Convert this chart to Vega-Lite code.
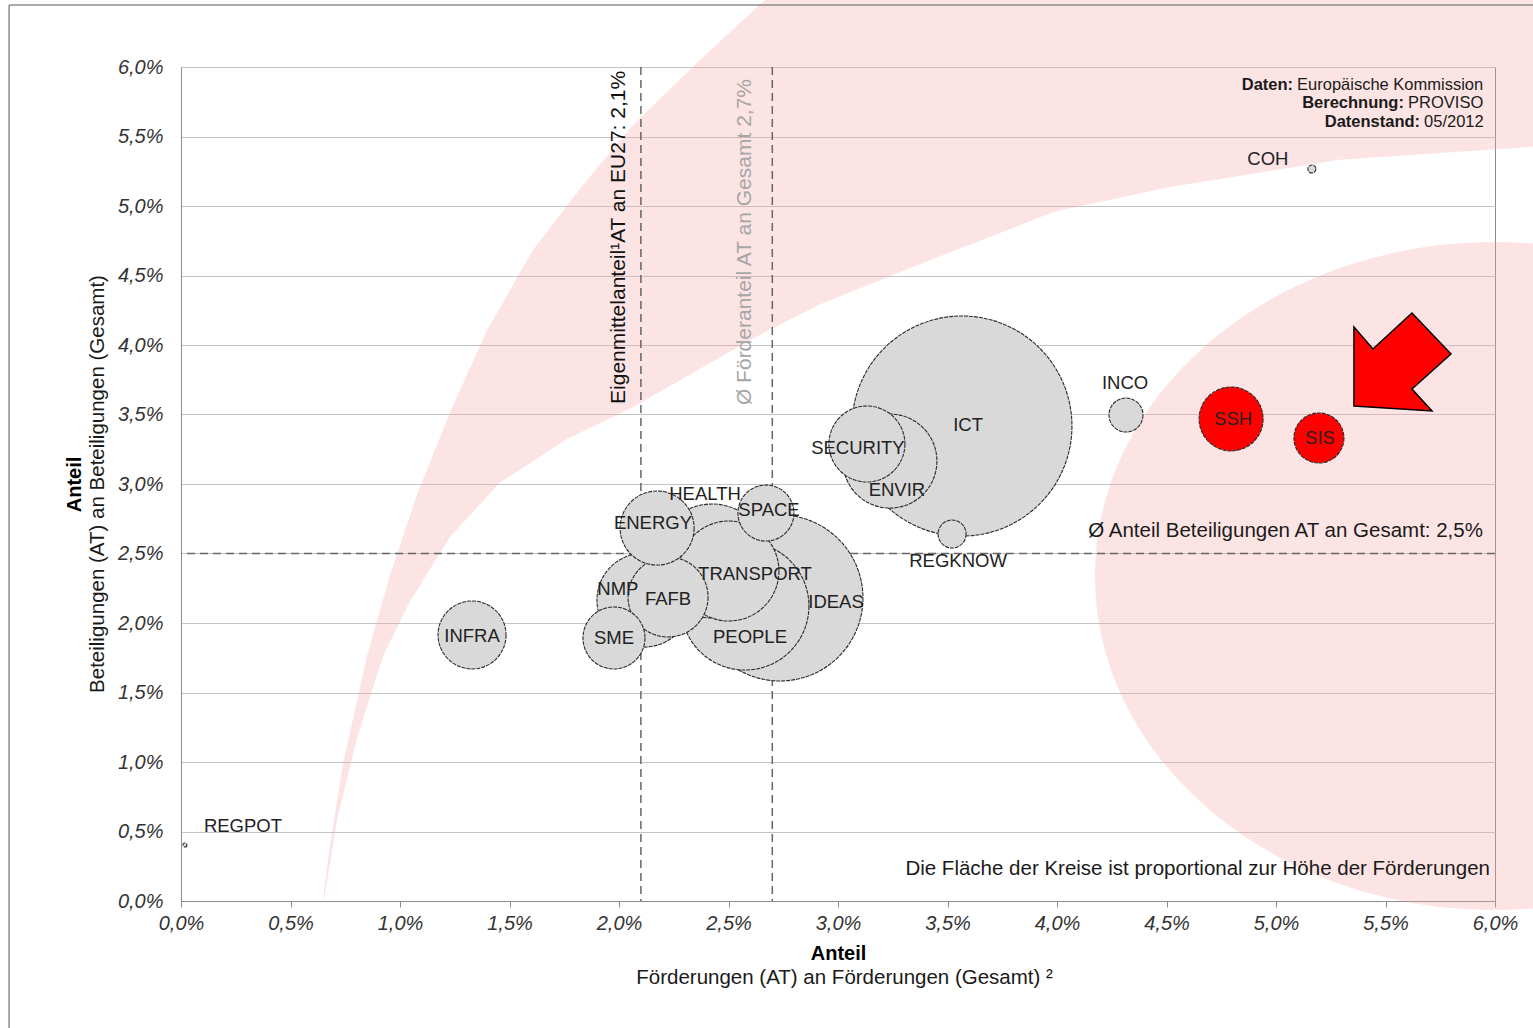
{
  "$schema": "https://vega.github.io/schema/vega-lite/v6.json",
  "width": 1314,
  "height": 834,
  "autosize": {"type": "none"},
  "padding": {"left": 181, "top": 67, "right": 38, "bottom": 127},
  "background": "white",
  "data": {"values": [{}]},
  "config": {
    "font": "Liberation Sans",
    "view": {"stroke": "#8c8c8c", "strokeWidth": 1}
  },
  "layer": [
    {
      "mark": {"type": "point", "filled": true, "fill": "#f6a5a5", "opacity": 0.3, "strokeWidth": 0, "size": 640000,
        "shape": "M -1 0 C -1 -0.461 -0.552 -0.835 0 -0.835 C 0.552 -0.835 1 -0.461 1 0 C 1 0.461 0.552 0.835 0 0.835 C -0.552 0.835 -1 0.461 -1 0 Z"},
      "encoding": {
        "x": {"datum": 6.0, "type": "quantitative", "scale": {"domain": [0, 6]},
          "axis": {"values": [0, 0.5, 1, 1.5, 2, 2.5, 3, 3.5, 4, 4.5, 5, 5.5, 6],
            "labelExpr": "replace(format(datum.value, '.1f'), '.', ',') + '%'",
            "labelFont": "Liberation Sans", "labelFontStyle": "italic", "labelFontSize": 20, "labelColor": "#333333",
            "labelPadding": 6, "labelFlush": false, "tickSize": 6, "tickColor": "#8c8c8c", "domainColor": "#8c8c8c", "grid": false,
            "title": "Anteil", "titleFontWeight": "bold", "titleFontSize": 20, "titleColor": "#000000", "titlePadding": 10}},
        "y": {"datum": 2.338, "type": "quantitative", "scale": {"domain": [0, 6]},
          "axis": {"values": [0, 0.5, 1, 1.5, 2, 2.5, 3, 3.5, 4, 4.5, 5, 5.5, 6],
            "labelExpr": "replace(format(datum.value, '.1f'), '.', ',') + '%'",
            "labelFont": "Liberation Sans", "labelFontStyle": "italic", "labelFontSize": 20, "labelColor": "#333333",
            "labelPadding": 18, "labelFlush": false, "ticks": false, "domainColor": "#8c8c8c", "grid": true, "gridColor": "#c4c4c4",
            "title": "Anteil", "titleFontWeight": "bold", "titleFontSize": 20, "titleColor": "#000000", "titlePadding": 33}}
      }
    },
    {
      "mark": {"type": "point", "filled": true, "fill": "#f6a5a5", "opacity": 0.3, "strokeWidth": 0, "size": 1537600,
        "shape": "M -0.979 0.726 L -0.968 0.639 L -0.947 0.508 L -0.908 0.332 L -0.871 0.202 L -0.827 0.071 L -0.774 -0.061 L -0.715 -0.192 L -0.640 -0.323 L -0.560 -0.427 L -0.479 -0.524 L -0.371 -0.629 L -0.266 -0.726 L -0.250 -0.742 L 0.992 -0.742 L 0.992 -0.489 L 0.973 -0.489 L 0.661 -0.468 L 0.387 -0.424 L 0.200 -0.384 L 0.113 -0.350 L -0.021 -0.298 L -0.177 -0.235 L -0.263 -0.192 L -0.371 -0.131 L -0.479 -0.069 L -0.585 -0.018 L -0.694 0.053 L -0.774 0.140 L -0.839 0.245 L -0.882 0.332 L -0.924 0.465 L -0.956 0.595 L -0.976 0.718 Z"},
      "encoding": {
        "x": {"datum": 3.42, "type": "quantitative", "scale": {"domain": [0, 6]}},
        "y": {"datum": 3.245, "type": "quantitative", "scale": {"domain": [0, 6]}}
      }
    },
    {
      "mark": {"type": "rule", "color": "#8c8c8c", "strokeWidth": 1.5},
      "encoding": {
        "x": {"datum": -0.785, "type": "quantitative", "scale": {"domain": [0, 6]}},
        "y": {"datum": -0.95, "type": "quantitative", "scale": {"domain": [0, 6]}},
        "y2": {"datum": 6.446}
      }
    },
    {
      "mark": {"type": "rule", "color": "#8c8c8c", "strokeWidth": 1.5},
      "encoding": {
        "x": {"datum": -0.785, "type": "quantitative", "scale": {"domain": [0, 6]}},
        "x2": {"datum": 6.2},
        "y": {"datum": 6.446, "type": "quantitative", "scale": {"domain": [0, 6]}}
      }
    },
    {
      "mark": {"type": "rule", "color": "#666666", "strokeWidth": 1.5, "strokeDash": [8, 5]},
      "encoding": {"x": {"datum": 2.1, "type": "quantitative", "scale": {"domain": [0, 6]}}}
    },
    {
      "mark": {"type": "rule", "color": "#666666", "strokeWidth": 1.5, "strokeDash": [8, 5]},
      "encoding": {"x": {"datum": 2.7, "type": "quantitative", "scale": {"domain": [0, 6]}}}
    },
    {
      "mark": {"type": "rule", "color": "#666666", "strokeWidth": 1.5, "strokeDash": [8, 5]},
      "encoding": {"y": {"datum": 2.5, "type": "quantitative", "scale": {"domain": [0, 6]}}}
    },
    {
      "data": {"values": [
        {"name": "ICT", "foerd": 12100, "x": 3.566, "y": 3.417, "lx": 3.594, "ly": 3.424},
        {"name": "IDEAS", "foerd": 6889, "x": 2.735, "y": 2.180, "lx": 2.991, "ly": 2.151},
        {"name": "PEOPLE", "foerd": 4096, "x": 2.575, "y": 2.122, "lx": 2.598, "ly": 1.899},
        {"name": "HEALTH", "foerd": 3249, "x": 2.425, "y": 2.446, "lx": 2.393, "ly": 2.928},
        {"name": "TRANSPORT", "foerd": 2500, "x": 2.502, "y": 2.374, "lx": 2.621, "ly": 2.353},
        {"name": "ENVIR", "foerd": 2209, "x": 3.237, "y": 3.165, "lx": 3.269, "ly": 2.957},
        {"name": "NMP", "foerd": 2209, "x": 2.114, "y": 2.165, "lx": 1.995, "ly": 2.245},
        {"name": "FAFB", "foerd": 1600, "x": 2.224, "y": 2.187, "lx": 2.224, "ly": 2.173},
        {"name": "SECURITY", "foerd": 1444, "x": 3.132, "y": 3.288, "lx": 3.091, "ly": 3.259},
        {"name": "ENERGY", "foerd": 1369, "x": 2.174, "y": 2.683, "lx": 2.155, "ly": 2.719},
        {"name": "INFRA", "foerd": 1156, "x": 1.329, "y": 1.914, "lx": 1.329, "ly": 1.906},
        {"name": "SSH", "foerd": 1024, "x": 4.795, "y": 3.468, "lx": 4.804, "ly": 3.468},
        {"name": "SME", "foerd": 961, "x": 1.977, "y": 1.892, "lx": 1.977, "ly": 1.892},
        {"name": "SPACE", "foerd": 784, "x": 2.671, "y": 2.791, "lx": 2.685, "ly": 2.813},
        {"name": "SIS", "foerd": 625, "x": 5.196, "y": 3.331, "lx": 5.201, "ly": 3.331},
        {"name": "INCO", "foerd": 289, "x": 4.315, "y": 3.496, "lx": 4.311, "ly": 3.727},
        {"name": "REGKNOW", "foerd": 196, "x": 3.521, "y": 2.640, "lx": 3.548, "ly": 2.446},
        {"name": "COH", "foerd": 16, "x": 5.164, "y": 5.266, "lx": 4.963, "ly": 5.338},
        {"name": "REGPOT", "foerd": 4, "x": 0.018, "y": 0.403, "lx": 0.283, "ly": 0.540}
      ]},
      "layer": [
        {
          "mark": {"type": "point", "shape": "circle", "filled": true, "opacity": 1, "stroke": "#2a2a2a", "strokeWidth": 1.1, "strokeDash": [4, 1]},
          "encoding": {
            "x": {"field": "x", "type": "quantitative", "scale": {"domain": [0, 6]}},
            "y": {"field": "y", "type": "quantitative", "scale": {"domain": [0, 6]}},
            "size": {"field": "foerd", "type": "quantitative", "scale": {"type": "linear", "domain": [0, 12100], "range": [0, 48400]}, "legend": null},
            "fill": {"condition": {"test": "datum.name === 'SSH' || datum.name === 'SIS'", "value": "#ff0000"}, "value": "#d9d9d9"}
          }
        },
        {
          "mark": {"type": "text", "fontSize": 18.5, "color": "#222222", "align": "center", "baseline": "middle", "font": "Liberation Sans"},
          "encoding": {
            "x": {"field": "lx", "type": "quantitative", "scale": {"domain": [0, 6]}},
            "y": {"field": "ly", "type": "quantitative", "scale": {"domain": [0, 6]}},
            "text": {"field": "name"}
          }
        }
      ]
    },
    {
      "mark": {"type": "text", "angle": 270, "align": "left", "baseline": "bottom", "fontSize": 21, "color": "#111111"},
      "encoding": {
        "x": {"datum": 2.045, "type": "quantitative", "scale": {"domain": [0, 6]}},
        "y": {"datum": 3.576, "type": "quantitative", "scale": {"domain": [0, 6]}},
        "text": {"value": "Eigenmittelanteil¹AT an  EU27: 2,1%"}
      }
    },
    {
      "mark": {"type": "text", "angle": 270, "align": "left", "baseline": "bottom", "fontSize": 21, "color": "#a6a6a6"},
      "encoding": {
        "x": {"datum": 2.62, "type": "quantitative", "scale": {"domain": [0, 6]}},
        "y": {"datum": 3.568, "type": "quantitative", "scale": {"domain": [0, 6]}},
        "text": {"value": "Ø Förderanteil AT an Gesamt 2,7%"}
      }
    },
    {
      "mark": {"type": "text", "align": "right", "baseline": "alphabetic", "fontSize": 20.5, "color": "#1a1a1a"},
      "encoding": {
        "x": {"datum": 5.945, "type": "quantitative", "scale": {"domain": [0, 6]}},
        "y": {"datum": 2.619, "type": "quantitative", "scale": {"domain": [0, 6]}},
        "text": {"value": "Ø Anteil Beteiligungen AT an Gesamt: 2,5%"}
      }
    },
    {
      "mark": {"type": "text", "align": "right", "baseline": "alphabetic", "fontSize": 20.5, "color": "#1a1a1a"},
      "encoding": {
        "x": {"datum": 5.977, "type": "quantitative", "scale": {"domain": [0, 6]}},
        "y": {"datum": 0.187, "type": "quantitative", "scale": {"domain": [0, 6]}},
        "text": {"value": "Die Fläche der Kreise ist proportional zur Höhe der Förderungen"}
      }
    },
    {
      "data": {"values": [
        {"t": "Daten:", "x": 5.078, "y": 5.835},
        {"t": "Berechnung:", "x": 5.584, "y": 5.705},
        {"t": "Datenstand:", "x": 5.658, "y": 5.568}
      ]},
      "mark": {"type": "text", "align": "right", "baseline": "alphabetic", "fontSize": 16.5, "fontWeight": "bold", "color": "#1a1a1a"},
      "encoding": {
        "x": {"field": "x", "type": "quantitative", "scale": {"domain": [0, 6]}},
        "y": {"field": "y", "type": "quantitative", "scale": {"domain": [0, 6]}},
        "text": {"field": "t"}
      }
    },
    {
      "data": {"values": [
        {"t": "Europäische Kommission", "x": 5.096, "y": 5.835},
        {"t": "PROVISO", "x": 5.603, "y": 5.705},
        {"t": "05/2012", "x": 5.676, "y": 5.568}
      ]},
      "mark": {"type": "text", "align": "left", "baseline": "alphabetic", "fontSize": 16.5, "color": "#1a1a1a"},
      "encoding": {
        "x": {"field": "x", "type": "quantitative", "scale": {"domain": [0, 6]}},
        "y": {"field": "y", "type": "quantitative", "scale": {"domain": [0, 6]}},
        "text": {"field": "t"}
      }
    },
    {
      "mark": {"type": "text", "align": "center", "baseline": "middle", "fontSize": 20.5, "color": "#1a1a1a"},
      "encoding": {
        "x": {"datum": 3.03, "type": "quantitative", "scale": {"domain": [0, 6]}},
        "y": {"datum": -0.554, "type": "quantitative", "scale": {"domain": [0, 6]}},
        "text": {"value": "Förderungen (AT) an Förderungen (Gesamt) ²"}
      }
    },
    {
      "mark": {"type": "text", "angle": 270, "align": "center", "baseline": "middle", "fontSize": 20.5, "color": "#1a1a1a"},
      "encoding": {
        "x": {"datum": -0.379, "type": "quantitative", "scale": {"domain": [0, 6]}},
        "y": {"datum": 3.0, "type": "quantitative", "scale": {"domain": [0, 6]}},
        "text": {"value": "Beteiligungen (AT) an Beteiligungen (Gesamt)"}
      }
    },
    {
      "mark": {"type": "point", "filled": true, "fill": "#ff0000", "opacity": 1, "stroke": "#000000", "strokeWidth": 1.5, "size": 14400,
        "shape": "M -0.767 0.733 L -0.767 -0.583 L -0.45 -0.217 L 0.2 -0.817 L 0.85 -0.133 L 0.2 0.45 L 0.533 0.817 Z"},
      "encoding": {
        "x": {"datum": 5.566, "type": "quantitative", "scale": {"domain": [0, 6]}},
        "y": {"datum": 3.878, "type": "quantitative", "scale": {"domain": [0, 6]}}
      }
    }
  ]
}
